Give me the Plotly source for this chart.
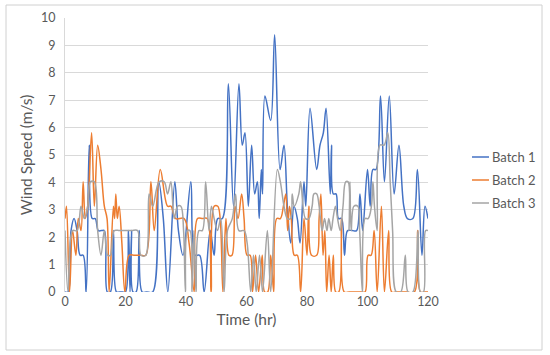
import plotly.graph_objects as go

# ---------------- data (hours, m/s) ----------------
batch1_t = [0, 1, 2, 3, 4, 5, 6, 7, 8, 9, 10, 11, 12, 13, 14, 15, 16, 17, 18, 19, 20,
            21, 21.5, 22, 22.5, 23.5, 24.5, 25.5, 27, 29, 31, 32.5, 34, 36.3, 37.5, 39,
            41.6, 43, 44.5, 46, 48, 49.3, 50.5, 52, 54, 55.7, 57.5, 58.6, 59.5, 60.6,
            61.7, 62.7, 63.6, 64.2, 64.9, 65.3, 66.1, 68, 69.3, 71.1, 72.4, 73.5, 74.6,
            75.7, 76.8, 77.7, 79, 79.6, 81, 83.2, 84.3, 85.4, 86.3, 87.7, 88.1, 88.7,
            89.6, 90.4, 91.4, 92.4, 93.4, 95, 96.4, 97.5, 98.4, 100, 100.9, 101.8, 102.8,
            104.3, 105.6, 107.2, 108.8, 110.4, 112, 113.2, 115, 116.5, 118, 119, 120]
batch1_v = [0, 0, 2.24, 2.68, 2.24, 1.34, 1.34, 0, 5.36, 2.68, 2.68, 2.24, 2.24, 2.24, 0, 0, 2.24, 0, 0, 0, 0,
            2.24, 0, 2.24, 0, 0, 2.24, 0, 0, 0, 4.02, 2.68, 0, 4.02, 2.24, 1.34,
            4.02, 1.34, 1.34, 0, 2.24, 1.34, 2.68, 2.68, 7.6, 3.13, 7.6, 5.36, 5.81, 3.13,
            5.36, 3.58, 4.02, 2.68, 4.47, 3.58, 7.15, 6.26, 9.39, 4.47, 5.36, 3.13, 1.79,
            3.13, 2.68, 1.79, 4.02, 3.13, 6.71, 4.47, 5.36, 5.81, 6.71, 3.58, 5.36, 3.58,
            3.58, 2.68, 2.68, 1.34, 2.24, 2.24, 2.24, 3.58, 2.24, 4.47, 3.13, 4.47, 4.47,
            7.15, 4.02, 7.15, 3.58, 5.36, 3.13, 2.68, 2.68, 4.47, 1.34, 3.13, 2.68]

batch2_t = [0, 0.5, 1.5, 2.5, 3.6, 4.4, 5.3, 6, 6.7, 7.5, 8.8, 9.7, 10.8, 11.9, 13, 13.9, 14.6,
            16, 16.4, 16.8, 17.3, 17.9, 18.8, 19.8, 21.2, 23, 25, 26.7, 28.4, 29.5, 31.5,
            33.9, 35, 36.6, 39.4, 41, 42.7, 43.8, 45.5, 47, 48.3, 49.3, 50.5, 51.3, 52.2,
            53.2, 54.2, 55.2, 56.2, 57.2, 58.4, 59.2, 60.2, 61.2, 62, 63, 64, 65.2, 66, 67,
            68, 69, 70, 71.2, 72.2, 73, 73.6, 74.2, 74.8, 75.8, 76.8, 77.9, 79, 80, 80.6,
            81.5, 83.2, 84, 84.6, 85.3, 85.9, 86.5, 87.3, 88, 88.7, 89.5, 90.5, 91.4, 92.3,
            94, 96, 98, 99.2, 100.2, 101.2, 102.2, 103.2, 104.6, 105.6, 107, 108, 109.5, 111, 113,
            115.5, 116.6, 117.5, 119, 120]
batch2_v = [2.68, 3.13, 0, 2.24, 1.34, 2.68, 2.24, 4.02, 2.68, 3.13, 5.81, 3.13, 5.36, 4.47, 3.13, 2.68, 0,
            3.13, 2.68, 3.58, 2.68, 3.13, 1.79, 0, 1.34, 1.34, 1.34, 1.34, 4.02, 2.24, 4.47,
            3.13, 3.13, 2.68, 2.68, 1.79, 0, 2.68, 2.68, 2.68, 0, 3.13, 3.13, 2.68, 0,
            2.68, 1.34, 1.34, 3.13, 2.68, 3.58, 2.68, 1.34, 1.34, 0, 1.34, 0, 1.34, 0, 0,
            1.34, 0, 2.68, 2.68, 3.13, 3.58, 2.24, 3.13, 2.68, 1.34, 1.34, 0, 2.68, 1.34, 3.13,
            1.34, 1.34, 2.68, 3.58, 1.34, 2.24, 0, 1.34, 0, 1.34, 0, 0, 2.68, 0,
            0, 0, 0, 0, 1.34, 1.34, 2.24, 0, 3.13, 0, 2.24, 0, 0, 0, 0,
            0, 2.24, 0, 0, 0]

batch3_t = [0, 1, 2.5, 4, 5.3, 6.4, 7.5, 8.4, 9.7, 10.8, 11.9, 13, 14.1, 15, 16.3, 18, 20, 22, 24,
            25.1, 26.7, 27.8, 29, 31.1, 32.8, 33.9, 35, 36.1, 37.2, 38.3, 39.2, 39.8, 40.5,
            41.3, 42, 42.6, 43.3, 44.3, 45.4, 46.5, 47.6, 48.4, 49.3, 50.4, 51.5, 52.6, 53.7,
            55.3, 56.4, 57.5, 59.2, 60.2, 61.4, 62.3, 63.2, 64.3, 65.3, 66.9, 68, 70.2, 71.2,
            72.4, 73.5, 74.6, 75.1, 75.8, 77.3, 77.9, 79.5, 80.6, 81.7, 82.3, 83.2, 84, 85,
            85.8, 86.6, 87.2, 88, 88.6, 89.4, 90.1, 91, 91.9, 92.8, 93.6, 93.9, 94.2, 94.6,
            95.5, 96.8, 97.4, 98.3, 99.2, 100.2, 101.3, 101.8, 102.3, 103.2, 104.1, 105.5,
            106.7, 107.5, 108.3, 109.5, 111, 112.5, 113.4, 115, 116.7, 117.5, 118.5, 119.2, 120]
batch3_v = [2.24, 0, 2.24, 2.24, 3.13, 2.68, 3.13, 4.02, 4.02, 2.24, 1.34, 2.24, 1.34, 1.34, 2.24, 2.24, 2.24, 2.24, 2.24,
            1.34, 1.34, 3.58, 3.13, 4.02, 4.02, 3.58, 4.02, 2.68, 3.13, 3.13, 2.24, 0, 2.24,
            2.24, 0, 2.24, 0, 2.24, 2.24, 4.02, 2.24, 3.13, 2.68, 2.24, 2.68, 0, 2.24,
            2.68, 3.58, 2.24, 2.24, 1.79, 0, 1.34, 0, 1.34, 0, 2.24, 0, 4.47, 4.02,
            3.13, 2.68, 2.68, 3.58, 3.13, 3.58, 4.02, 2.68, 2.68, 3.13, 3.58, 3.58, 3.13, 2.24,
            2.68, 2.24, 2.68, 2.24, 2.68, 3.13, 2.68, 2.24, 3.13, 4.02, 4.02, 2.24, 4.02, 2.24,
            3.13, 3.13, 2.24, 0, 2.68, 2.68, 3.13, 4.02, 3.13, 2.24, 5.36, 5.36,
            5.81, 4.02, 2.24, 0, 0, 1.34, 0, 0, 2.24, 0, 0, 2.24, 2.24]

series_names = ["Batch 1", "Batch 2", "Batch 3"]
series_colors = ["#4472C4", "#ED7D31", "#A5A5A5"]

x_ticks = [0, 20, 40, 60, 80, 100, 120]
y_ticks = list(range(0, 11))

for a, b in [(batch1_t, batch1_v), (batch2_t, batch2_v), (batch3_t, batch3_v)]:
    assert len(a) == len(b), (len(a), len(b))

FONT = "Lato, 'Open Sans', sans-serif"
TXT = "#595959"

fig = go.Figure()
for (tt, vv), name, col in zip([(batch1_t, batch1_v), (batch2_t, batch2_v), (batch3_t, batch3_v)],
                               series_names, series_colors):
    fig.add_trace(go.Scatter(x=tt, y=vv, name=name, mode="lines", showlegend=False,
                             line=dict(color=col, width=1.5, shape="spline", smoothing=1.0)))

L, R, T, B = 65, 122, 18, 63
W, H = 550, 355
pw, ph = W - L - R, H - T - B

def px(xp):
    return (xp - L) / pw

def py(yp):
    return (H - B - yp) / ph

shapes = [
    dict(type="rect", xref="paper", yref="paper",
         x0=px(6), x1=px(542), y0=py(350), y1=py(5),
         line=dict(color="#D0D0D0", width=1), layer="below"),
]
annotations = []
# legend drawn as keys + labels to the right of the plot
for i, (name, col) in enumerate(zip(series_names, series_colors)):
    ypx = 157 + 23 * i
    shapes.append(dict(type="line", xref="paper", yref="paper",
                       x0=px(472), x1=px(489), y0=py(ypx), y1=py(ypx),
                       line=dict(color=col, width=1.5)))
    annotations.append(dict(xref="paper", yref="paper", x=px(490), y=py(ypx),
                            xanchor="left", yanchor="middle", showarrow=False,
                            text=name, font=dict(size=13, color=TXT)))

fig.update_layout(
    width=W, height=H,
    margin=dict(l=L, r=R, t=T, b=B, autoexpand=False),
    paper_bgcolor="white", plot_bgcolor="white",
    font=dict(family=FONT, size=12, color=TXT),
    showlegend=False,
    xaxis=dict(range=[0, 120], tickvals=x_ticks, showgrid=False, zeroline=False,
               showline=False, ticks="", tickfont=dict(size=12.5, color=TXT),
               title=dict(text="Time (hr)", font=dict(size=15.5, color=TXT), standoff=6)),
    yaxis=dict(range=[0, 10], tickvals=y_ticks, showgrid=True, gridcolor="#D9D9D9",
               gridwidth=1, zeroline=False, showline=True, linecolor="#D9D9D9",
               ticks="", tickfont=dict(size=12.5, color=TXT), ticklabelstandoff=6,
               title=dict(text="Wind Speed (m/s)", font=dict(size=15.5, color=TXT), standoff=4)),
    shapes=shapes,
    annotations=annotations,
)

fig.write_html("out.html", config={"displayModeBar": False},
               post_script="document.body.style.margin='0px';document.body.style.overflow='hidden';")
